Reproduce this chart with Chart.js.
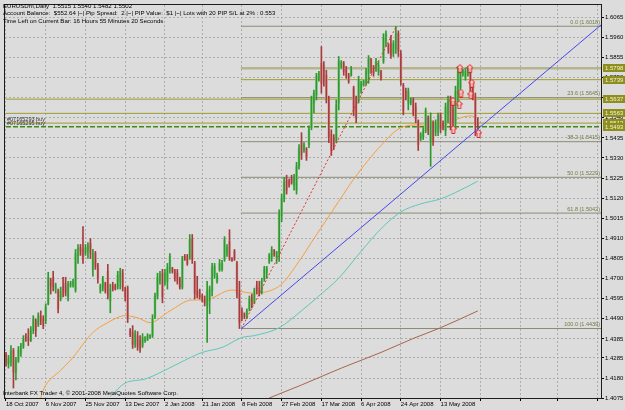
<!DOCTYPE html>
<html>
<head>
<meta charset="utf-8">
<title>EURUSDm,Daily</title>
<script src="https://cdn.jsdelivr.net/npm/chart.js@4.4.0/dist/chart.umd.min.js"></script>
<style>
  html, body { margin: 0; padding: 0; background: #dcdcdc; }
  #wrap { position: relative; width: 625px; height: 410px; overflow: hidden; }
  #chart { position: absolute; left: 0; top: 0; }
  .txt { position: absolute; font-family: "Liberation Sans", Arial, sans-serif; font-size: 6.1px; line-height: 7.3px; color: #000; white-space: pre; }
</style>
</head>
<body>
<div id="wrap">
  <canvas id="chart" width="625" height="410"></canvas>
  <div class="txt" style="left:3px;top:2px">EURUSDm,Daily  1.5515 1.5540 1.5482 1.5502
Account Balance:  $552.64 |~| Pip Spread:  2 |~| PIP Value:  $1 |~| Lots with 20 PIP S/L at 2% : 0.553
Time Left on Current Bar: 16 Hours 55 Minutes 20 Seconds</div>
  <div class="txt" style="left:3px;top:389px">Interbank FX Trader 4, © 2001-2008 MetaQuotes Software Corp.</div>
</div>
<script>
// --- Daily bars, index 0 = 18 Oct 2007 ---
const barOpen = [
  1.4304,1.4252,1.4262,1.4325,1.4211,1.4273,1.4314,1.4345,1.4402,1.4392,
  1.4376,1.4428,1.4480,1.4459,1.4500,1.4490,1.4480,1.4568,1.4692,1.4707,
  1.4645,1.4635,1.4593,1.4661,1.4676,1.4604,1.4666,1.4666,1.4640,1.4821,
  1.4862,1.4852,1.4831,1.4842,1.4883,1.4748,1.4831,1.4769,1.4635,1.4655,
  1.4676,1.4738,1.4583,1.4666,1.4661,1.4655,1.4686,1.4728,1.4650,1.4645,
  1.4428,1.4418,1.4356,1.4397,1.4376,1.4350,1.4376,1.4381,1.4392,1.4402,
  1.4500,1.4609,1.4686,1.4728,1.4676,1.4686,1.4748,1.4754,1.4738,1.4728,
  1.4697,1.4655,1.4816,1.4810,1.4810,1.4904,1.4779,1.4635,1.4635,1.4609,
  1.4593,1.4557,1.4583,1.4635,1.4717,1.4686,1.4748,1.4748,1.4800,1.4831,
  1.4893,1.4805,1.4842,1.4779,1.4624,1.4531,1.4516,1.4500,1.4542,1.4604,
  1.4578,1.4666,1.4650,1.4629,1.4697,1.4728,1.4790,1.4810,1.4847,1.4810,
  1.4831,1.5028,1.5121,1.5214,1.5209,1.5224,1.5183,1.5162,1.5286,1.5410,
  1.5369,1.5379,1.5400,1.5488,1.5617,1.5658,1.5746,1.5824,1.5813,1.5762,
  1.5638,1.5452,1.5436,1.5421,1.5617,1.5808,1.5824,1.5798,1.5762,1.5762,
  1.5695,1.5627,1.5627,1.5679,1.5710,1.5720,1.5772,1.5844,1.5803,1.5793,
  1.5782,1.5782,1.5834,1.5938,1.5922,1.5927,1.5876,1.5901,1.5979,1.5876,
  1.5710,1.5679,1.5617,1.5617,1.5633,1.5596,1.5524,1.5431,1.5441,1.5472,
  1.5540,1.5410,1.5514,1.5462,1.5472,1.5555,1.5514,1.5472,1.5565,1.5627,
  1.5591,1.5514,1.5643,1.5695,1.5767,1.5751,1.5762,1.5788,1.5710,1.5653,
  1.5515
];
const barHigh = [
  1.4314,1.4299,1.4350,1.4335,1.4288,1.4345,1.4361,1.4402,1.4412,1.4438,
  1.4449,1.4506,1.4490,1.4521,1.4531,1.4506,1.4568,1.4733,1.4702,1.4738,
  1.4676,1.4645,1.4655,1.4707,1.4707,1.4686,1.4686,1.4697,1.4852,1.4878,
  1.4878,1.4971,1.4878,1.4888,1.4909,1.4852,1.4842,1.4779,1.4671,1.4712,
  1.4681,1.4774,1.4671,1.4681,1.4671,1.4738,1.4754,1.4748,1.4655,1.4661,
  1.4438,1.4454,1.4428,1.4423,1.4402,1.4412,1.4397,1.4412,1.4407,1.4511,
  1.4624,1.4728,1.4738,1.4748,1.4748,1.4779,1.4831,1.4759,1.4748,1.4748,
  1.4707,1.4816,1.4826,1.4826,1.4930,1.4930,1.4790,1.4712,1.4645,1.4619,
  1.4609,1.4686,1.4661,1.4779,1.4779,1.4728,1.4800,1.4795,1.4919,1.4878,
  1.4955,1.4810,1.4852,1.4790,1.4686,1.4547,1.4521,1.4542,1.4609,1.4619,
  1.4650,1.4686,1.4686,1.4702,1.4764,1.4764,1.4831,1.4867,1.4852,1.4842,
  1.5059,1.5141,1.5229,1.5240,1.5219,1.5240,1.5245,1.5307,1.5400,1.5462,
  1.5410,1.5384,1.5498,1.5653,1.5684,1.5772,1.5782,1.5912,1.5834,1.5788,
  1.5653,1.5477,1.5452,1.5633,1.5860,1.5839,1.5834,1.5808,1.5772,1.5808,
  1.5705,1.5653,1.5757,1.5731,1.5736,1.5798,1.5865,1.5850,1.5813,1.5850,
  1.5834,1.5788,1.5979,1.5994,1.5927,1.5969,1.5943,1.6018,1.5994,1.5891,
  1.5720,1.5695,1.5695,1.5643,1.5643,1.5617,1.5529,1.5462,1.5488,1.5591,
  1.5550,1.5565,1.5524,1.5529,1.5565,1.5565,1.5524,1.5617,1.5653,1.5653,
  1.5633,1.5705,1.5808,1.5808,1.5793,1.5798,1.5808,1.5798,1.5731,1.5669,
  1.5540
];
const barLow = [
  1.4242,1.4232,1.4242,1.4128,1.4170,1.4262,1.4293,1.4335,1.4371,1.4350,
  1.4371,1.4412,1.4397,1.4449,1.4459,1.4438,1.4464,1.4562,1.4619,1.4635,
  1.4624,1.4521,1.4583,1.4604,1.4609,1.4583,1.4655,1.4655,1.4629,1.4779,
  1.4821,1.4779,1.4821,1.4805,1.4805,1.4712,1.4748,1.4676,1.4624,1.4635,
  1.4624,1.4593,1.4521,1.4635,1.4640,1.4645,1.4645,1.4635,1.4583,1.4470,
  1.4397,1.4335,1.4340,1.4325,1.4314,1.4340,1.4366,1.4376,1.4387,1.4392,
  1.4490,1.4593,1.4671,1.4573,1.4666,1.4645,1.4728,1.4728,1.4686,1.4671,
  1.4645,1.4645,1.4795,1.4769,1.4800,1.4779,1.4593,1.4599,1.4593,1.4578,
  1.4557,1.4366,1.4516,1.4609,1.4702,1.4676,1.4738,1.4738,1.4790,1.4816,
  1.4795,1.4790,1.4795,1.4599,1.4439,1.4480,1.4490,1.4490,1.4531,1.4547,
  1.4568,1.4619,1.4609,1.4619,1.4686,1.4702,1.4779,1.4790,1.4816,1.4779,
  1.4790,1.4997,1.5100,1.5141,1.5178,1.5193,1.5162,1.5141,1.5271,1.5322,
  1.5359,1.5317,1.5384,1.5477,1.5565,1.5633,1.5731,1.5669,1.5705,1.5617,
  1.5410,1.5343,1.5374,1.5410,1.5581,1.5798,1.5762,1.5746,1.5720,1.5757,
  1.5550,1.5514,1.5617,1.5669,1.5705,1.5710,1.5720,1.5772,1.5757,1.5782,
  1.5762,1.5736,1.5824,1.5912,1.5876,1.5850,1.5860,1.5876,1.5860,1.5710,
  1.5555,1.5633,1.5581,1.5607,1.5550,1.5514,1.5369,1.5421,1.5426,1.5462,
  1.5452,1.5286,1.5395,1.5446,1.5446,1.5462,1.5477,1.5446,1.5514,1.5477,
  1.5472,1.5488,1.5602,1.5653,1.5757,1.5736,1.5757,1.5653,1.5633,1.5446,
  1.5482
];
const barClose = [
  1.4262,1.4283,1.4325,1.4211,1.4273,1.4325,1.4345,1.4387,1.4381,1.4376,
  1.4428,1.4490,1.4428,1.4506,1.4480,1.4454,1.4552,1.4707,1.4661,1.4655,
  1.4666,1.4542,1.4635,1.4635,1.4624,1.4666,1.4676,1.4686,1.4831,1.4857,
  1.4842,1.4800,1.4862,1.4873,1.4831,1.4831,1.4764,1.4697,1.4661,1.4697,
  1.4635,1.4614,1.4645,1.4645,1.4645,1.4717,1.4738,1.4655,1.4604,1.4490,
  1.4407,1.4356,1.4407,1.4345,1.4335,1.4392,1.4387,1.4402,1.4402,1.4490,
  1.4609,1.4707,1.4723,1.4604,1.4728,1.4759,1.4816,1.4738,1.4702,1.4686,
  1.4655,1.4800,1.4800,1.4779,1.4904,1.4800,1.4624,1.4614,1.4604,1.4588,
  1.4573,1.4635,1.4645,1.4759,1.4764,1.4712,1.4779,1.4779,1.4904,1.4862,
  1.4805,1.4795,1.4800,1.4624,1.4470,1.4495,1.4500,1.4531,1.4593,1.4562,
  1.4635,1.4635,1.4624,1.4686,1.4748,1.4754,1.4821,1.4852,1.4826,1.4836,
  1.5038,1.5121,1.5203,1.5162,1.5188,1.5203,1.5224,1.5286,1.5379,1.5348,
  1.5400,1.5333,1.5477,1.5633,1.5669,1.5757,1.5772,1.5720,1.5731,1.5643,
  1.5436,1.5369,1.5400,1.5607,1.5834,1.5829,1.5782,1.5762,1.5731,1.5793,
  1.5576,1.5540,1.5736,1.5720,1.5731,1.5782,1.5850,1.5793,1.5772,1.5834,
  1.5813,1.5746,1.5958,1.5979,1.5886,1.5865,1.5927,1.5979,1.5886,1.5731,
  1.5576,1.5648,1.5679,1.5638,1.5565,1.5534,1.5400,1.5452,1.5472,1.5576,
  1.5472,1.5524,1.5421,1.5514,1.5550,1.5483,1.5488,1.5596,1.5627,1.5514,
  1.5488,1.5679,1.5782,1.5782,1.5782,1.5782,1.5793,1.5679,1.5653,1.5503,
  1.5502
];

// --- Time axis (bar index of each date label) ---
const dateTickIdx = [0, 16, 32, 48, 64, 79, 95, 111, 127, 143, 159, 175, 191, 207, 222, 238];
const dateTickLabels = ['18 Oct 2007', '6 Nov 2007', '25 Nov 2007', '13 Dec 2007', '2 Jan 2008', '21 Jan 2008',
  '8 Feb 2008', '27 Feb 2008', '17 Mar 2008', '6 Apr 2008', '24 Apr 2008', '13 May 2008', '', '', '', ''];

// --- Price axis ---
const priceTicks = [1.6065, 1.5960, 1.5855, 1.5750, 1.5645, 1.5540, 1.5435, 1.5330, 1.5225, 1.5120,
  1.5015, 1.4910, 1.4805, 1.4700, 1.4595, 1.4490, 1.4385, 1.4285, 1.4180, 1.4075];

// --- Moving averages (sampled) ---
const maFastIdx = [14, 15, 22, 26, 35, 41, 48, 53, 58, 66, 75, 80, 91, 99, 106, 111, 118, 124, 132, 140, 151, 159, 167, 175, 180, 187, 190];
const maFast = [1.4076, 1.4118, 1.4221, 1.4273, 1.4418, 1.4470, 1.4506, 1.4495, 1.4470, 1.4531, 1.4588, 1.4588, 1.4640, 1.4624,
  1.4635, 1.4671, 1.4790, 1.4909, 1.5064, 1.5219, 1.5395, 1.5488, 1.5503, 1.5493, 1.5524, 1.5550, 1.5540];
const maMidIdx = [42, 48, 56, 64, 72, 79, 87, 95, 100, 110, 118, 126, 134, 143, 151, 159, 167, 175, 183, 190];
const maMid = [1.4085, 1.4154, 1.4175, 1.4221, 1.4273, 1.4314, 1.4340, 1.4392, 1.4402, 1.4443, 1.4521, 1.4609, 1.4702,
  1.4842, 1.4960, 1.5048, 1.5090, 1.5116, 1.5162, 1.5209];
const maSlowIdx = [106, 119, 135, 151, 164, 175, 190];
const maSlow = [1.4076, 1.4144, 1.4232, 1.4314, 1.4387, 1.4443, 1.4531];

// --- Drawn objects ---
const trendIdx = [94.8, 240];
const trendPrice = [1.4438, 1.6029];
const fibIdx = [94.8, 157.2];
const fibPrice = [1.4439, 1.6018];
const fibLevels = [0.0, 23.6, 38.2, 50.0, 61.8, 100.0];
const fibPrices = [1.6018, 1.5645, 1.5415, 1.5229, 1.5042, 1.4439];
const levelPrices = [1.5798, 1.5739, 1.5637, 1.5563, 1.5512];
const levelFromIdx = [94.6, 94.6, 0, 0, 0];
const orderPrices = [1.5512, 1.5493];
const orderLabels = ['#07165293 buy', '#07165295 buy'];
const tagPrices = [1.5798, 1.5739, 1.5637, 1.5563, 1.5512, 1.5493];
const arrowIdx = [182.8, 186.8, 187.6, 187.2, 183.2, 180.0, 182.5, 180.1, 190.3];
const arrowPrice = [1.5798, 1.5798, 1.5720, 1.5660, 1.5669, 1.5626, 1.5608, 1.5479, 1.5458];

const X_MIN = -0.4, X_MAX = 239.6;
const Y_MIN = 1.4076, Y_MAX = 1.6129;
const FONT = '"Liberation Sans", Arial, sans-serif';

const isUp = i => barClose[i] >= barOpen[i];
const pts = (xs, ys) => xs.map((v, k) => ({x: v, y: ys[k]}));

// outlined arrow marker like the MT4 ones
const arrowImg = (() => {
  const c = document.createElement('canvas');
  c.width = 7; c.height = 9;
  const g = c.getContext('2d');
  g.beginPath();
  g.moveTo(3.5, 0.5); g.lineTo(6.5, 4); g.lineTo(5, 4); g.lineTo(5, 8.5);
  g.lineTo(2, 8.5); g.lineTo(2, 4); g.lineTo(0.5, 4); g.closePath();
  g.fillStyle = '#f6d4d4'; g.fill();
  g.strokeStyle = '#e02020'; g.lineWidth = 1; g.stroke();
  return c;
})();

function hLine(price, fromIdx, color, width, dash, order) {
  return {
    type: 'line', data: [{x: fromIdx, y: price}, {x: 240, y: price}],
    borderColor: color, borderWidth: width, borderDash: dash || [],
    pointRadius: 0, order: order
  };
}

const datasets = [];
datasets.push({
  type: 'line', data: pts(arrowIdx, arrowPrice), showLine: false,
  pointStyle: arrowImg, pointRadius: 4, order: 0
});
datasets.push({
  type: 'line', data: pts(trendIdx, trendPrice), borderColor: '#4646ee', borderWidth: 1,
  pointRadius: 0, order: 1
});
datasets.push({
  type: 'line', data: pts(fibIdx, fibPrice), borderColor: '#e83030', borderWidth: 1,
  borderDash: [2, 2], pointRadius: 0, order: 2
});
datasets.push({
  type: 'bar', data: barLow.map((v, i) => ({x: i, y: [v, barHigh[i]]})),
  backgroundColor: barLow.map((v, i) => isUp(i) ? '#2e9a2e' : '#a83c3c'),
  barThickness: 1, grouped: false, order: 3
});
datasets.push({
  type: 'bar', data: barOpen.map((v, i) => ({x: i, y: [v, barClose[i]]})),
  backgroundColor: barOpen.map((v, i) => isUp(i) ? '#96cc96' : '#d8a8a8'),
  barThickness: 2, minBarLength: 1, grouped: false, order: 4
});
datasets.push({
  type: 'line', data: pts(maFastIdx, maFast), borderColor: '#f4a040', borderWidth: 1,
  pointRadius: 0, cubicInterpolationMode: 'monotone', order: 5
});
datasets.push({
  type: 'line', data: pts(maMidIdx, maMid), borderColor: '#5ec8b8', borderWidth: 1,
  pointRadius: 0, cubicInterpolationMode: 'monotone', order: 5
});
datasets.push({
  type: 'line', data: pts(maSlowIdx, maSlow), borderColor: '#a8654c', borderWidth: 1,
  pointRadius: 0, cubicInterpolationMode: 'monotone', order: 5
});
levelPrices.forEach((p, k) => {
  if (k === 0) datasets.push(hLine(p, levelFromIdx[k], '#b4b48e', 2.5, null, 6));
  else datasets.push(hLine(p, levelFromIdx[k], '#9e9e2e', 1, null, 6));
});
datasets.push(hLine(orderPrices[1], 0, '#3c8c14', 1.5, [5, 2], 6));
fibPrices.forEach(p => datasets.push(hLine(p, 94.6, '#8a8c74', 1, null, 7)));

const overlay = {
  id: 'overlay',
  beforeDraw(chart) {
    const {ctx, width, height} = chart;
    ctx.save();
    ctx.fillStyle = '#dcdcdc';
    ctx.fillRect(0, 0, width, height);
    ctx.restore();
  },
  afterDatasetsDraw(chart) {
    const {ctx, chartArea: a, scales: {y}} = chart;
    ctx.save();
    ctx.font = '5.5px ' + FONT;
    ctx.textBaseline = 'bottom';
    // fibo level captions
    ctx.fillStyle = '#6c7c40';
    ctx.textAlign = 'right';
    fibLevels.forEach((lv, k) => {
      ctx.fillText(lv.toFixed(1) + ' (' + fibPrices[k].toFixed(4) + ')', a.right - 1, y.getPixelForValue(fibPrices[k]) - 1);
    });
    // order captions
    ctx.fillStyle = '#333';
    ctx.textAlign = 'left';
    orderLabels.forEach((t, k) => {
      ctx.fillText(t, a.left + 2, y.getPixelForValue(orderPrices[k]) - 1);
    });
    ctx.restore();
  },
  afterDraw(chart) {
    const {ctx, chartArea: a, scales: {y}, width} = chart;
    ctx.save();
    ctx.strokeStyle = '#1c1c1c';
    ctx.lineWidth = 1;
    ctx.strokeRect(a.left - 0.5, a.top - 0.5, a.right - a.left + 1, a.bottom - a.top + 1);
    // price tags on the axis
    ctx.font = '6px ' + FONT;
    ctx.textAlign = 'left';
    ctx.textBaseline = 'middle';
    tagPrices.forEach(p => {
      const py = Math.round(y.getPixelForValue(p));
      ctx.fillStyle = '#8e8e1e';
      ctx.fillRect(a.right + 2, py - 4, width - a.right - 2, 8);
      ctx.fillStyle = '#f4f4d4';
      ctx.fillText(p.toFixed(4), a.right + 4, py + 0.5);
    });
    ctx.restore();
  }
};

new Chart(document.getElementById('chart'), {
  type: 'bar',
  data: {datasets: datasets},
  plugins: [overlay],
  options: {
    responsive: false,
    animation: false,
    events: [],
    layout: {padding: {left: 1, top: 1, right: 0, bottom: 0}},
    plugins: {legend: {display: false}, tooltip: {enabled: false}},
    scales: {
      x: {
        type: 'linear', min: X_MIN, max: X_MAX, offset: false,
        afterBuildTicks: s => { s.ticks = dateTickIdx.map(v => ({value: v})); },
        afterFit: s => { s.height = 12; s.paddingLeft = 0; s.paddingRight = 0; },
        grid: {offset: false, color: '#adadad', tickColor: '#000', tickLength: 3, lineWidth: 1},
        border: {display: false, dash: [2, 2]},
        ticks: {
          autoSkip: false, maxRotation: 0, align: 'start', padding: 0,
          color: '#000', font: {family: FONT, size: 6},
          callback: (v, k) => dateTickLabels[k]
        }
      },
      y: {
        type: 'linear', position: 'right', min: Y_MIN, max: Y_MAX,
        afterBuildTicks: s => { s.ticks = priceTicks.map(v => ({value: v})); },
        afterFit: s => { s.width = 24; s.paddingTop = 0; s.paddingBottom = 0; },
        grid: {color: '#adadad', tickColor: '#000', tickLength: 3, lineWidth: 1},
        border: {display: false, dash: [2, 2]},
        ticks: {
          padding: 1, color: '#000', font: {family: FONT, size: 6},
          callback: v => v.toFixed(4)
        }
      }
    }
  }
});
</script>
</body>
</html>
